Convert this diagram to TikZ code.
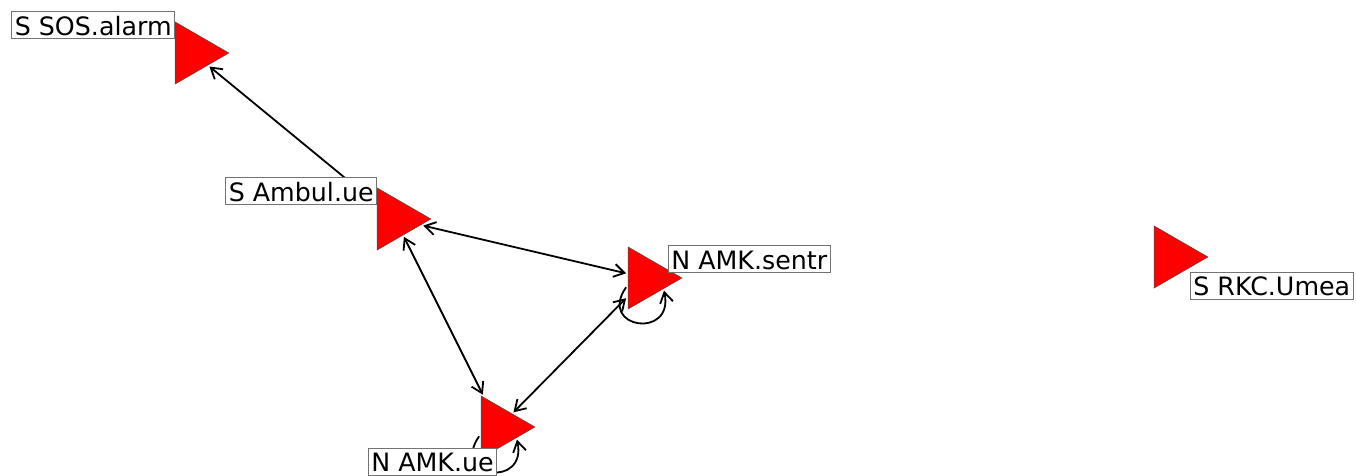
\documentclass[tikz,border=0pt]{standalone}
\usepackage{fontspec}
\setmainfont{DejaVu Sans}
\usepackage{tikz}
\usetikzlibrary{positioning, arrows.meta, shapes.geometric, backgrounds}
\tikzset{
    knoten/.style = {regular polygon, regular polygon sides=3, shape border rotate=-90,
                     minimum size=71.6pt, inner sep=0pt, outer sep=2pt,
                     fill=red, draw=black!70, line width=0.6pt},
    beschr/.style = {draw=black!55, fill=white, line width=0.7pt,
                     font=\fontsize{25.3}{27}\selectfont, inner xsep=3pt, inner ysep=0pt,
                     text height=23.5pt, text depth=3.5pt},
    spitze/.tip   = {Straight Barb[length=10.5pt, width=13pt, line width=1.8pt]},
    link/.style   = {-spitze, line width=1.8pt},
    beide/.style  = {spitze-spitze, line width=1.8pt},
    schleife/.style = {link, out=-125, in=-78, looseness=3.4}
}

\begin{document}
\begin{tikzpicture}[x=1pt, y=-1pt]
    \useasboundingbox (0,0) rectangle (1356,476);

    % Knoten
    \foreach \n/\x/\y in {sos/193/53, amb/395/219, sentr/646/278, amkue/499/427, rkc/1172/257}
        \node[knoten] (\n) at (\x,\y) {};

    % Beschriftung
    \node[beschr, anchor=south east] (sosL)   at ([xshift=-18pt, yshift=14pt]sos.center)     {S SOS.alarm};
    \node[beschr, anchor=south east] (ambL)   at ([xshift=-18pt, yshift=14pt]amb.center)     {S Ambul.ue};
    \node[beschr, anchor=south west] (sentrL) at ([xshift=22pt, yshift=5pt]sentr.center)     {N AMK.sentr};
    \node[beschr, anchor=north east] (amkueL) at ([xshift=-2pt, yshift=-20.5pt]amkue.center) {N AMK.ue};
    \node[beschr, anchor=north west] (rkcL)   at ([xshift=18pt, yshift=-15pt]rkc.center)     {S RKC.Umea};

    % Kanten
    \begin{scope}[on background layer]
        \draw[link]  (amb) -- (sos);
        \draw[beide] (amb) -- (sentr);
        \draw[beide] (amb) -- (amkue);
        \draw[beide] (sentr) -- (amkue);
        \draw[schleife] (sentr.-155) to (sentr.-35);
        \draw[schleife] (amkue.-155) to (amkue.-35);
    \end{scope}
\end{tikzpicture}
\end{document}
